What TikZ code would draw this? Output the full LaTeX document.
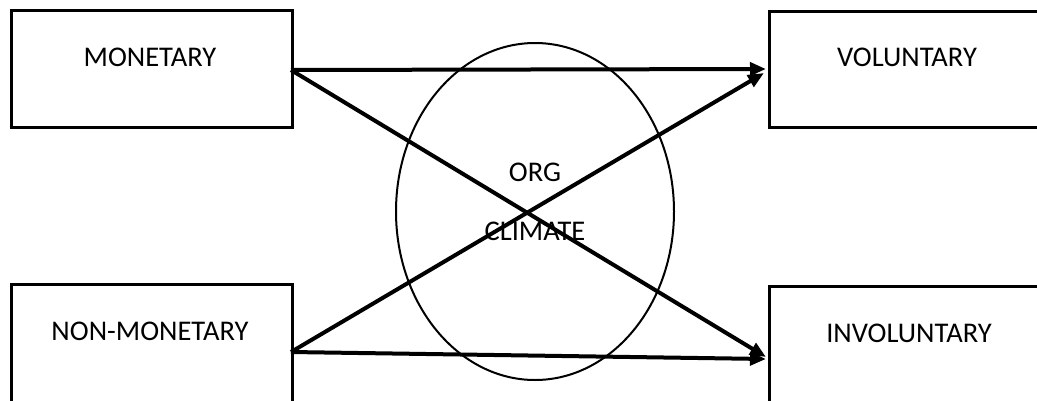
\documentclass[tikz,border=0pt]{standalone}
\usepackage{fontspec}
\setmainfont{Carlito}
\usetikzlibrary{arrows.meta,shapes.geometric}
\begin{document}
\begin{tikzpicture}[x=1pt,y=-1pt,
  box/.style={draw,line width=3pt,minimum width=#1,inner sep=0pt},
  lbl/.style={font=\fontsize{28.5}{34}\selectfont,inner sep=0pt},
  conn/.style={line width=4pt,-{Triangle[length=16pt,width=13pt]}}]
\useasboundingbox (0,0) rectangle (1037,400);
\clip (0,0) rectangle (1037,400);
\fill[white] (0,0) rectangle (1037,400);
% boxes
\node[box=281pt,minimum height=117pt,anchor=north west] (mon) at (10,9) {};
\node[box=280pt,minimum height=116pt,anchor=north west] (vol) at (768,10) {};
\node[box=281pt,minimum height=127pt,anchor=north west] (non) at (10,283) {};
\node[box=280pt,minimum height=125pt,anchor=north west] (inv) at (768,285) {};
% labels
\node[lbl] (tmon) at (150,57) {MONETARY};
\node[lbl] (tvol) at (907,57) {VOLUNTARY};
\node[lbl] (tnon) at (150,331) {NON-MONETARY};
\node[lbl] (tinv) at (909,333) {INVOLUNTARY};
% ellipse
\node[draw,line width=2pt,ellipse,minimum width=278pt,minimum height=337pt,inner sep=0pt] (clim) at (535,211.5) {};
\node[lbl] (torg) at (535,172) {ORG};
\node[lbl] (tcli) at (535,231) {CLIMATE};
% anchor points
\coordinate (m1) at (291,70);
\coordinate (n1) at (291,352);
\coordinate (v1) at (766,69);
\coordinate (v2) at (764,73);
\coordinate (i1) at (766,359);
\coordinate (i2) at (766,357);
\draw[conn] (m1) -- (v1);
\draw[conn] (m1) -- (i2);
\draw[conn] (n1) -- (v2);
\draw[conn] (n1) -- (i1);
\end{tikzpicture}
\end{document}
